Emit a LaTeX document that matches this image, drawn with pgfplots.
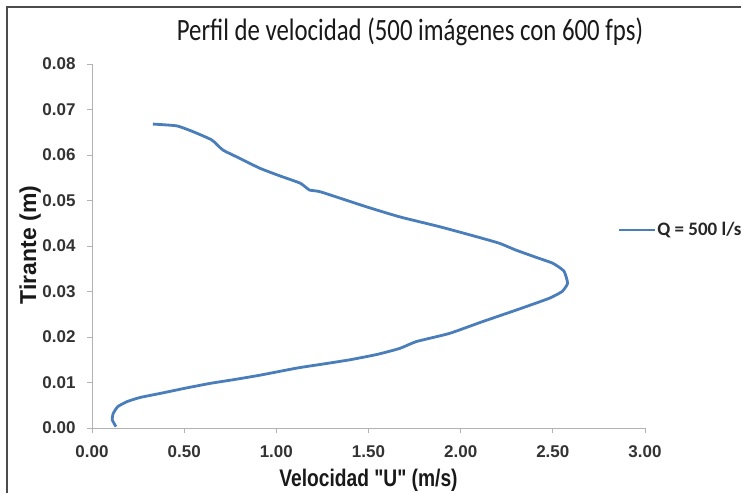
\documentclass[border=0pt]{standalone}
\usepackage{pgfplots}
\pgfplotsset{compat=1.18}
\usepackage{fontspec}
\setmainfont{Liberation Sans}
\newfontfamily\ticksfont[FakeStretch=0.8]{Liberation Sans}
\newfontfamily\calibri[FakeStretch=0.8]{Carlito}
\newfontfamily\legfont{Carlito}
\definecolor{serieblue}{HTML}{4A7EBB}
\begin{document}
\begin{tikzpicture}
\useasboundingbox (0,0) rectangle (741pt,493pt);
\fill[white] (0,0) rectangle (741pt,493pt);
\draw[black!70, line width=1.2pt] (7pt,0) -- (7pt,486pt) -- (741pt,486pt);
\begin{axis}[
    at={(92pt,65pt)}, anchor=south west,
    scale only axis, width=553pt, height=364pt,
    xmin=0, xmax=3, ymin=0, ymax=0.08,
    axis lines*=left,
    axis line style={-, black!30, line width=0.9pt},
    xtick={0,0.5,1,1.5,2,2.5,3},
    ytick={0,0.01,0.02,0.03,0.04,0.05,0.06,0.07,0.08},
    scaled ticks=false,
    /pgf/number format/assume math mode=true,
    /pgf/number format/fixed,
    /pgf/number format/fixed zerofill,
    /pgf/number format/precision=2,
    yticklabel style={xshift=-8pt},
    xticklabel style={yshift=-9pt},
    tick align=outside, major tick length=5pt,
    tick style={black!30, line width=0.8pt},
    ticklabel style={font=\bfseries\fontsize{17}{17}\selectfont, text=black!80},
    xlabel={Velocidad "U" (m/s)},
    ylabel={Tirante (m)},
    xlabel style={at={(axis description cs:0.5,-0.143)}, anchor=center,
        font=\ticksfont\bfseries\fontsize{24}{24}\selectfont, text=black!90},
    ylabel style={at={(axis description cs:-0.112,0.503)}, anchor=center, rotate=0,
        font=\bfseries\fontsize{23}{23}\selectfont, text=black!90},
    title={Perfil de velocidad (500 imágenes con 600 fps)},
    title style={at={(axis description cs:0.575,1.073)}, anchor=center,
        font=\calibri\fontsize{31}{31}\selectfont, text=black!90},
    legend style={at={(axis description cs:0.95,0.544)}, anchor=west,
        draw=none, fill=none, inner sep=0pt,
        font=\legfont\bfseries\fontsize{19}{19}\selectfont, text=black!85,
        nodes={inner sep=1pt}},
    legend image code/.code={\draw[#1] (0pt,0pt) -- (36pt,0pt);},
]
\addplot[serieblue, line width=2.8pt, smooth, tension=0.3] coordinates {
(0.13,0.0003) (0.11,0.0018) (0.115,0.0032) (0.14,0.0047) (0.19,0.0058)
(0.26,0.0067) (0.37,0.0076) (0.50,0.0087) (0.64,0.0098) (0.78,0.0107)
(0.91,0.0116) (1.05,0.0127) (1.13,0.0133) (1.26,0.0141) (1.40,0.0150)
(1.55,0.0162) (1.67,0.0175) (1.76,0.0190) (1.94,0.0208) (2.12,0.0234)
(2.30,0.0259) (2.48,0.0285) (2.55,0.0300) (2.58,0.0318) (2.56,0.0345)
(2.50,0.0362) (2.41,0.0375) (2.30,0.0391) (2.21,0.0406) (2.09,0.0420)
(1.89,0.0442) (1.67,0.0464) (1.49,0.0486) (1.24,0.0519) (1.18,0.0523)
(1.13,0.0538) (1.02,0.0554) (0.91,0.0571) (0.80,0.0593) (0.71,0.0611)
(0.65,0.0633) (0.55,0.0651) (0.46,0.0664) (0.33,0.0668)
};
\addlegendentry{Q = 500 l/s}
\end{axis}
\end{tikzpicture}
\end{document}
